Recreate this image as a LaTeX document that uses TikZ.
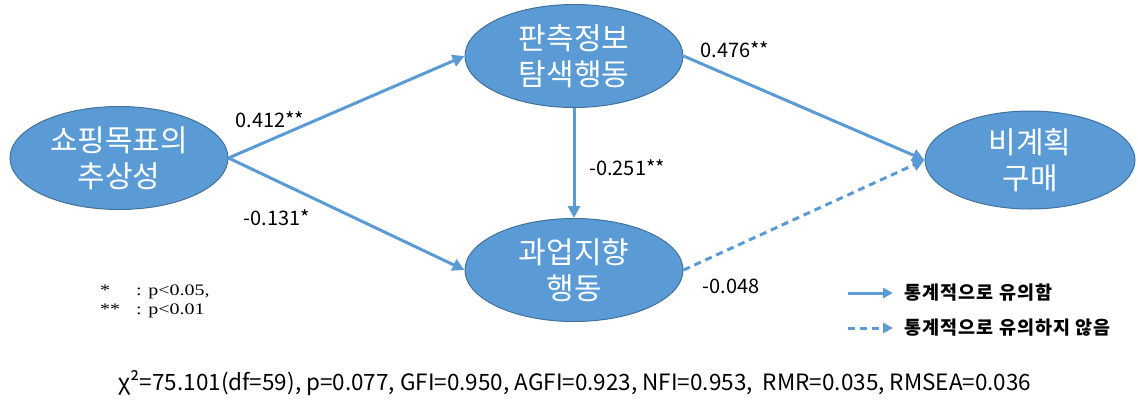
\documentclass[tikz,border=0pt]{standalone}
\usepackage{fontspec}
\setmainfont{Noto Sans CJK KR}
\newfontfamily\serifnote[FakeStretch=1.25]{Liberation Serif}
\newfontfamily\legfont[LetterSpace=6]{Noto Sans CJK KR}
\usetikzlibrary{arrows.meta,shapes.geometric}
\definecolor{fillb}{HTML}{5B9BD5}
\definecolor{edgeb}{HTML}{41719C}
\definecolor{arrb}{HTML}{5B9BD5}
\begin{document}
\begin{tikzpicture}[x=1pt,y=-1pt,
  construct/.style={ellipse, fill=fillb, draw=edgeb, line width=1pt, minimum width=218pt, minimum height=103pt, inner sep=0pt, text=white, font=\fontsize{30}{40}\selectfont, align=center},
  path/.style={draw=arrb, line width=3pt, -{Triangle[length=12pt,width=12pt]}},
  nspath/.style={path, dash pattern=on 7pt off 5pt},
  coef/.style={font=\fontsize{20}{22}\selectfont, text=black, inner sep=0pt},
  legtext/.style={font=\legfont\bfseries\fontsize{18.5}{20}\selectfont, anchor=west, inner sep=0pt},
  note/.style={font=\serifnote\fontsize{16}{18}\selectfont, anchor=west, inner sep=0pt}]
\useasboundingbox (0,0) rectangle (1138,400);
\node[construct] (abs) at (119,158) {\raisebox{-6pt}{\shortstack{쇼핑목표의\\[6pt]추상성}}};
\node[construct] (search) at (574,56) {\raisebox{-6pt}{\shortstack{판측정보\\[6pt]탐색행동}}};
\node[construct] (task) at (574,270) {\raisebox{-6pt}{\shortstack{과업지향\\[6pt]행동}}};
\node[construct, minimum width=210pt, minimum height=98pt] (buy) at (1030,160) {\raisebox{-6pt}{\shortstack{비계획\\[6pt]구매}}};
\draw[path] (abs.east) -- (search.west);
\draw[path] (abs.east) -- (task.west);
\draw[path] (search.south) -- (task.north);
\draw[path] (search.east) -- (buy.west);
\draw[nspath] (task.east) -- (buy.west);
\node[coef] (c1) at (270,120) {0.412**};
\node[coef] (c2) at (277,218) {-0.131*};
\node[coef] (c3) at (627,168) {-0.251**};
\node[coef] (c4) at (735,50) {0.476**};
\node[coef] (c5) at (731,286) {-0.048};
\node[note] (n1) at (100,290) {*};
\node[note] (n1b) at (136,292) {: p<0.05,};
\node[note] (n2) at (100,309) {**};
\node[note] (n2b) at (136,311) {: p<0.01};
\coordinate (l1a) at (848,293);
\coordinate (l1b) at (893,293);
\coordinate (l2a) at (848,328);
\coordinate (l2b) at (893,328);
\draw[draw=arrb, line width=3pt, -{Triangle[length=10pt,width=10pt]}] (l1a) -- (l1b);
\draw[draw=arrb, line width=3pt, dash pattern=on 7pt off 5pt, -{Triangle[length=10pt,width=10pt]}] (l2a) -- (l2b);
\node[legtext] (lt1) at (904,293) {통계적으로 유의함};
\node[legtext] (lt2) at (904,328) {통계적으로 유의하지 않음};
\node[font=\fontsize{22.5}{26}\selectfont, inner sep=0pt] (fit) at (575,383) {χ²=75.101(df=59), p=0.077, GFI=0.950, AGFI=0.923, NFI=0.953,~ RMR=0.035, RMSEA=0.036};
\end{tikzpicture}
\end{document}
